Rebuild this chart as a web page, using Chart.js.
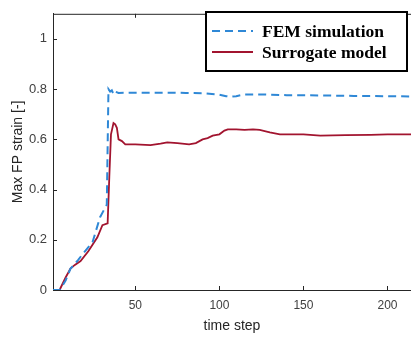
<!DOCTYPE html>
<html>
<head>
<meta charset="utf-8">
<script src="https://cdn.jsdelivr.net/npm/chart.js@4/dist/chart.umd.min.js"></script>
<style>
  html, body { margin: 0; padding: 0; background: #fff; }
  #wrap { width: 411px; height: 338px; }
</style>
</head>
<body>
<div id="wrap"><canvas id="chart" width="411" height="338"></canvas></div>
<script>
// FEM simulation (dashed blue)
const femTime = [1, 5, 8.5, 11.4, 13, 16, 19, 24.5, 29, 33, 34, 35, 36, 37, 38, 40, 50, 60, 70, 80, 90, 100, 104, 107, 110, 115, 125, 140, 160, 180, 200, 214];
const femVal  = [0, 0, 0.038, 0.085, 0.096, 0.12, 0.146, 0.19, 0.29, 0.34, 0.80, 0.79, 0.795, 0.78, 0.79, 0.785, 0.786, 0.786, 0.786, 0.785, 0.784, 0.778, 0.772, 0.77, 0.772, 0.779, 0.779, 0.776, 0.775, 0.773, 0.772, 0.771];

// Surrogate model (solid red)
const surTime = [1, 5, 5.5, 8.5, 11.4, 14, 17.4, 22, 27.4, 30.4, 33.5, 34.5, 35.5, 37, 38, 39, 40, 42, 44, 50, 59, 65, 69, 75, 82, 86, 90, 93, 96, 100, 103, 105, 110, 115, 120, 124, 130, 136, 150, 160, 175, 190, 200, 214];
const surVal  = [0, 0, 0.008, 0.05, 0.085, 0.1, 0.115, 0.154, 0.21, 0.258, 0.265, 0.45, 0.62, 0.665, 0.66, 0.646, 0.6, 0.593, 0.58, 0.58, 0.577, 0.583, 0.588, 0.585, 0.58, 0.585, 0.6, 0.605, 0.615, 0.62, 0.635, 0.64, 0.64, 0.638, 0.64, 0.638, 0.628, 0.62, 0.62, 0.615, 0.617, 0.618, 0.62, 0.62];

const yTicks = [0, 0.2, 0.4, 0.6, 0.8, 1];
const xTicks = [50, 100, 150, 200];

const legendItems = ["FEM simulation", "Surrogate model"];

const femColor = "#2f88d6";
const surColor = "#a2142f";
const axisColor = "#262626";
const textColor = "#404040";

// box outline + inward tick marks like MATLAB
const boxPlugin = {
  id: "box",
  afterDraw(chart) {
    const {ctx, chartArea: a, scales} = chart;
    ctx.save();
    ctx.strokeStyle = axisColor;
    ctx.lineWidth = 1;
    ctx.beginPath();
    ctx.moveTo(a.left, a.top + 0.5);
    ctx.lineTo(a.right, a.top + 0.5);
    xTicks.forEach(t => {
      const px = Math.round(scales.x.getPixelForValue(t)) + 0.5;
      ctx.moveTo(px, a.bottom); ctx.lineTo(px, a.bottom - 4);
      ctx.moveTo(px, a.top); ctx.lineTo(px, a.top + 4);
    });
    yTicks.forEach(t => {
      const py = Math.round(scales.y.getPixelForValue(t)) + 0.5;
      ctx.moveTo(a.left, py); ctx.lineTo(a.left + 4, py);
    });
    ctx.stroke();

    // legend
    const lx = 206, ly = 12, lw = 201, lh = 59;
    ctx.fillStyle = "#fff";
    ctx.fillRect(lx, ly, lw, lh);
    ctx.strokeStyle = "#000";
    ctx.lineWidth = 2;
    ctx.strokeRect(lx, ly, lw, lh);
    const rows = [
      {y: 31, color: femColor, dash: [8, 5], width: 2},
      {y: 52, color: surColor, dash: [], width: 2}
    ];
    ctx.font = "bold 17.5px 'Liberation Serif', 'Times New Roman', serif";
    ctx.textBaseline = "middle";
    rows.forEach((r, i) => {
      ctx.strokeStyle = r.color;
      ctx.lineWidth = r.width;
      ctx.setLineDash(r.dash);
      ctx.beginPath();
      ctx.moveTo(212, r.y);
      ctx.lineTo(253, r.y);
      ctx.stroke();
      ctx.setLineDash([]);
      ctx.fillStyle = "#000";
      ctx.fillText(legendItems[i], 262, r.y + 1);
    });
    ctx.restore();
  }
};

new Chart(document.getElementById("chart"), {
  type: "line",
  data: {
    datasets: [
      {
        label: legendItems[0],
        data: femTime.map((t, i) => ({x: t, y: femVal[i]})),
        borderColor: femColor,
        borderWidth: 2,
        borderDash: [8, 5],
        pointRadius: 0,
        tension: 0
      },
      {
        label: legendItems[1],
        data: surTime.map((t, i) => ({x: t, y: surVal[i]})),
        borderColor: surColor,
        borderWidth: 1.8,
        pointRadius: 0,
        tension: 0
      }
    ]
  },
  options: {
    responsive: false,
    animation: false,
    layout: { padding: { top: 5, right: 0, left: 0, bottom: 0 } },
    plugins: { legend: { display: false }, tooltip: { enabled: false } },
    scales: {
      x: {
        type: "linear",
        min: 1,
        max: 214,
        afterBuildTicks: s => { s.ticks = xTicks.map(v => ({value: v})); },
        afterFit: s => { s.height = 48; },
        grid: { drawOnChartArea: false, drawTicks: false },
        border: { color: axisColor, width: 1 },
        ticks: { color: textColor, font: { family: "Arial, 'Liberation Sans', sans-serif", size: 12 }, padding: 8, maxRotation: 0 },
        title: { display: true, text: "time step", color: "#262626", font: { family: "Arial, 'Liberation Sans', sans-serif", size: 14 }, padding: { top: 0, bottom: 3 } }
      },
      y: {
        min: 0,
        max: 1.1,
        afterBuildTicks: s => { s.ticks = yTicks.map(v => ({value: v})); },
        afterFit: s => { s.width = 53; },
        grid: { drawOnChartArea: false, drawTicks: false },
        border: { color: axisColor, width: 1 },
        ticks: { color: textColor, font: { family: "Arial, 'Liberation Sans', sans-serif", size: 13 }, padding: 6, callback: v => String(v) },
        title: { display: true, text: "Max FP strain [-]", color: "#262626", font: { family: "Arial, 'Liberation Sans', sans-serif", size: 14 }, padding: { top: 10, bottom: 0 } }
      }
    }
  },
  plugins: [boxPlugin]
});
</script>
</body>
</html>
